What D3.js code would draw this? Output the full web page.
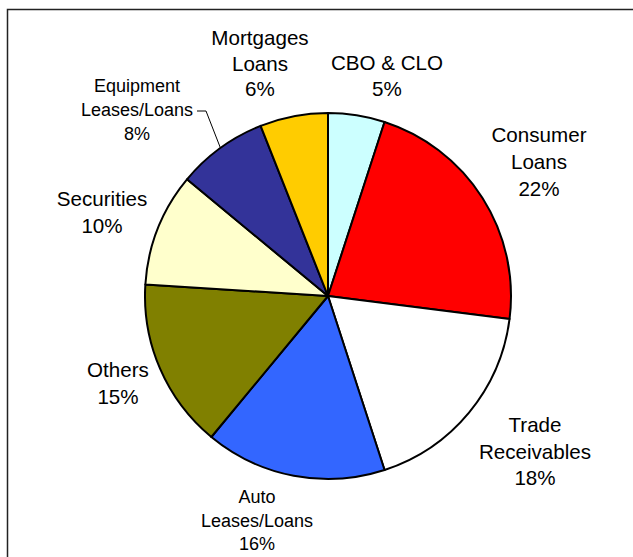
<!DOCTYPE html>
<html lang="en">
<head>
<meta charset="utf-8">
<title>Pie</title>
<script type="text/javascript" src="https://d3js.org/d3.v7.min.js"></script>
<style>
  body { margin: 0; background: #fff; }
  text { font-family: "Liberation Sans", Arial, sans-serif; fill: #000; }
</style>
</head>
<body>
<div id="pie-chart"></div>
<script type="text/javascript">
// data, clockwise from 12 o'clock
const categories = ["CBO & CLO", "Consumer Loans", "Trade Receivables", "Auto Leases/Loans",
                    "Others", "Securities", "Equipment Leases/Loans", "Mortgages Loans"];
const values = [5, 22, 18, 16, 15, 10, 8, 6];
const labelLines = [
  ["CBO & CLO"], ["Consumer", "Loans"], ["Trade", "Receivables"], ["Auto", "Leases/Loans"],
  ["Others"], ["Securities"], ["Equipment", "Leases/Loans"], ["Mortgages", "Loans"]
];
const colors = ["#CCFFFF", "#FF0000", "#FFFFFF", "#3366FF", "#808000", "#FFFFCC", "#333399", "#FFCC00"];

// layout (label anchors: x centre, first baseline, font size, line step)
const labelPos = [
  {x: 387, y: 70, fs: 20.6, step: 26},
  {x: 539, y: 142, fs: 20.6, step: 27},
  {x: 535, y: 432, fs: 20.6, step: 26.5},
  {x: 257, y: 503, fs: 18, step: 23.5},
  {x: 118, y: 377, fs: 20.6, step: 26.5},
  {x: 102, y: 206, fs: 20.6, step: 26.5},
  {x: 137, y: 92, fs: 18, step: 24},
  {x: 260, y: 45, fs: 20.6, step: 25.5}
];

const width = 633, height = 557;
const cx = 328, cy = 296, radius = 183;

const svg = d3.select("#pie-chart").append("svg")
  .attr("width", width).attr("height", height);

// frame
svg.append("rect")
  .attr("x", 7.5).attr("y", 9.5)
  .attr("width", width + 20).attr("height", height + 20)
  .attr("fill", "none").attr("stroke", "#222").attr("stroke-width", 1.5);

const pie = d3.pie().sort(null).value(d => d.value);
const arc = d3.arc().innerRadius(0).outerRadius(radius);

const data = categories.map((c, i) => ({name: c, value: values[i], i: i}));
const arcs = pie(data);

const g = svg.append("g").attr("transform", `translate(${cx},${cy})`);

g.selectAll("path")
  .data(arcs)
  .enter()
  .append("path")
  .attr("d", arc)
  .attr("fill", d => colors[d.data.i])
  .attr("stroke", "#000")
  .attr("stroke-width", 2)
  .attr("stroke-linejoin", "round");

// labels
const lbl = svg.append("g");
arcs.forEach((d, i) => {
  const p = labelPos[i];
  const lines = labelLines[i].concat([d.data.value + "%"]);
  const t = lbl.append("text")
    .attr("text-anchor", "middle")
    .attr("font-size", p.fs);
  lines.forEach((s, k) => {
    t.append("tspan").attr("x", p.x).attr("y", p.y + k * p.step).text(s);
  });
});

// leader line for equipment slice
const eq = arcs[6];
const mid = (eq.startAngle + eq.endAngle) / 2;
const ex = cx + radius * Math.sin(mid), ey = cy - radius * Math.cos(mid);
svg.append("polyline")
  .attr("points", [[197, 111], [206, 111], [ex, ey]].map(p => p.join(",")).join(" "))
  .attr("fill", "none").attr("stroke", "#000").attr("stroke-width", 1);
</script>
</body>
</html>
